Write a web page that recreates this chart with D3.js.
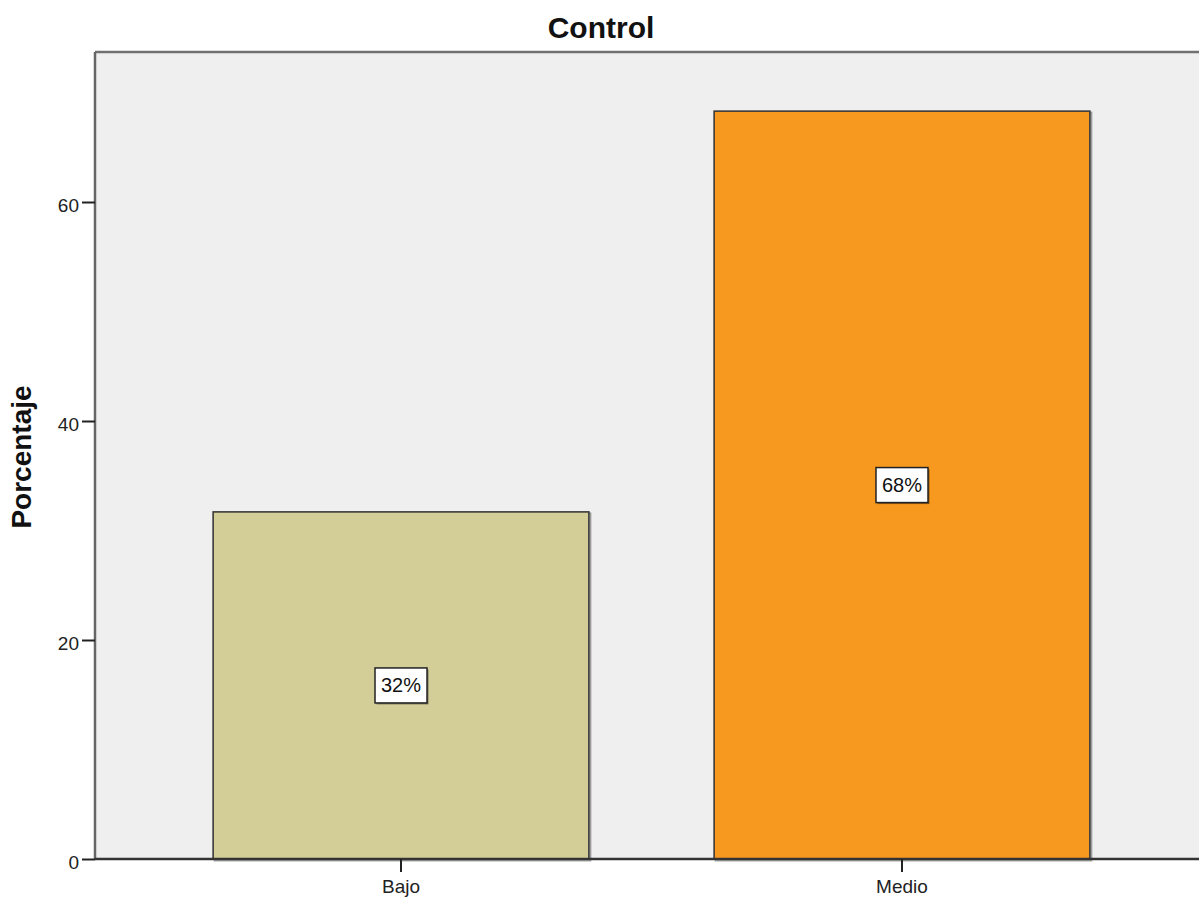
<!DOCTYPE html>
<html>
<head>
<meta charset="utf-8">
<script src="https://cdn.jsdelivr.net/npm/d3@7"></script>
<style>
  html, body { margin: 0; padding: 0; background: #ffffff; }
  svg { display: block; font-family: "Liberation Sans", Arial, sans-serif; }
</style>
</head>
<body>
<svg id="chart" width="1199" height="899"></svg>
<script>
const categories = ["Bajo", "Medio"];
const values = [31.7, 68.3];
const pctLabels = ["32%", "68%"];
const yTicks = [0, 20, 40, 60];
const barColors = ["#d3ce98", "#f7981f"];
const chartTitle = "Control";
const yTitle = "Porcentaje";

(function () {
const svg = d3.select("#chart");
const pL = 95, pT = 52, pB = 859, pR = 1208;

const x = d3.scaleBand().domain(categories).range([pL, pR])
  .paddingInner(0.25).paddingOuter(0.2358);
const y = d3.scaleLinear().domain([0, 73.7]).range([pB, pT]);

// plot background
svg.append("rect").attr("x", pL).attr("y", pT)
  .attr("width", pR - pL).attr("height", pB - pT)
  .attr("fill", "#efefef");
// top border
svg.append("line").attr("x1", pL).attr("x2", pR).attr("y1", pT).attr("y2", pT)
  .attr("stroke", "#707070").attr("stroke-width", 2.5);

// bars (shadow + bar)
const g = svg.append("g");
categories.forEach((c, i) => {
  g.append("rect")
    .attr("x", x(c) + 1.5).attr("y", y(values[i]) + 1.5)
    .attr("width", x.bandwidth()).attr("height", y(0) - y(values[i]))
    .attr("fill", "none").attr("stroke", "rgba(0,0,0,0.35)").attr("stroke-width", 2);
  g.append("rect")
    .attr("x", x(c)).attr("y", y(values[i]))
    .attr("width", x.bandwidth()).attr("height", y(0) - y(values[i]))
    .attr("fill", barColors[i]).attr("stroke", "#3a3a3a").attr("stroke-width", 1.6);
});

// y axis
const yAxis = svg.append("g").attr("transform", `translate(${pL},0)`)
  .call(d3.axisLeft(y).tickValues(yTicks).tickSize(13).tickPadding(3).tickFormat(d3.format("d")));
yAxis.select(".domain").attr("stroke", "#666").attr("stroke-width", 2.5)
  .attr("d", `M0,${pT}V${pB}`);
yAxis.selectAll(".tick line").attr("stroke", "#222").attr("stroke-width", 2);
yAxis.selectAll(".tick text").attr("font-size", 19).attr("fill", "#222")
  .attr("font-family", "Liberation Sans, Arial, sans-serif").attr("dy", "0.5em");

// x axis
const xAxis = svg.append("g").attr("transform", `translate(0,${pB})`)
  .call(d3.axisBottom(x).tickSize(13).tickPadding(8));
xAxis.select(".domain").attr("stroke", "#333").attr("stroke-width", 2.5)
  .attr("d", `M${pL},0H${pR}`);
xAxis.selectAll(".tick line").attr("stroke", "#222").attr("stroke-width", 2);
xAxis.selectAll(".tick text").attr("font-size", 19).attr("fill", "#222")
  .attr("font-family", "Liberation Sans, Arial, sans-serif");

// value labels
categories.forEach((c, i) => {
  const cx = x(c) + x.bandwidth() / 2;
  const cy = y(values[i] / 2);
  const t = svg.append("text").attr("x", cx).attr("y", cy)
    .attr("text-anchor", "middle").attr("dy", "0.35em")
    .attr("font-size", 20).attr("fill", "#111").text(pctLabels[i]);
  const w = 52, h = 35;
  svg.insert("rect", () => t.node())
    .attr("x", cx - w / 2 + 1.5).attr("y", cy - h / 2 + 1.5).attr("width", w).attr("height", h)
    .attr("fill", "rgba(0,0,0,0.4)");
  svg.insert("rect", () => t.node())
    .attr("x", cx - w / 2).attr("y", cy - h / 2).attr("width", w).attr("height", h)
    .attr("fill", "#ffffff").attr("stroke", "#222").attr("stroke-width", 1.5);
});

// title
svg.append("text").attr("x", 601).attr("y", 38).attr("text-anchor", "middle")
  .attr("font-size", 30).attr("font-weight", "bold").attr("fill", "#111").text(chartTitle);

// y title
svg.append("text").attr("transform", `translate(31,457) rotate(-90)`)
  .attr("text-anchor", "middle").attr("font-size", 28).attr("font-weight", "bold")
  .attr("fill", "#111").text(yTitle);
})();
</script>
</body>
</html>
